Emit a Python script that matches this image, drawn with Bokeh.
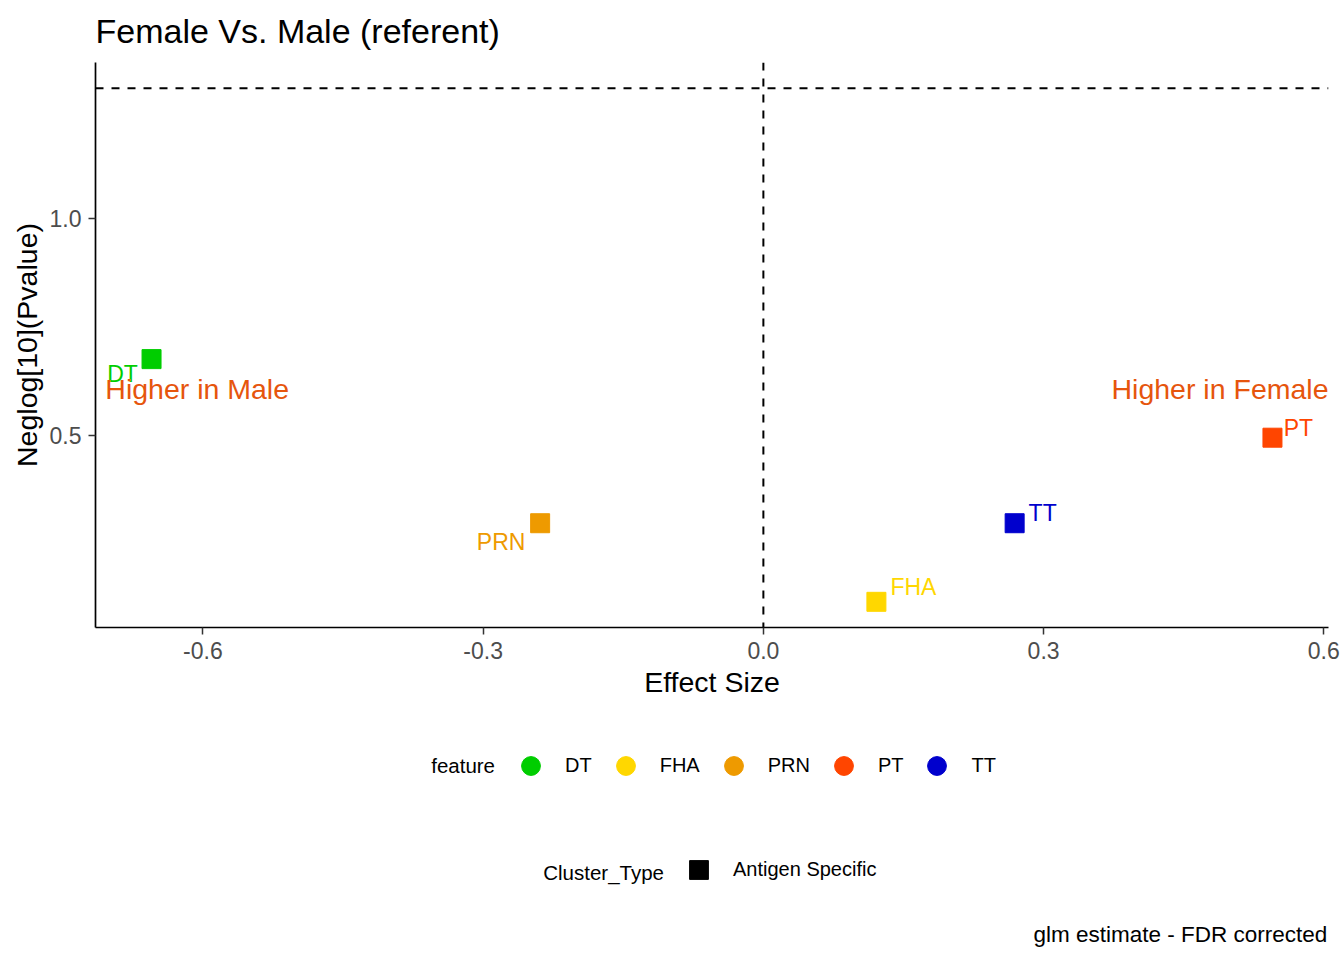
import math
from bokeh.plotting import figure
from bokeh.layouts import column
from bokeh.models import (ColumnDataSource, Span, Legend, LegendItem, Label,
                          FixedTicker, Range1d)
from bokeh.core.properties import value
from bokeh.embed import file_html
from bokeh.resources import INLINE

# ---- data -------------------------------------------------------------
features = ["DT", "FHA", "PRN", "PT", "TT"]
effect_size = [-0.655, 0.121, -0.239, 0.545, 0.269]
neglog_p = [0.677, 0.118, 0.299, 0.496, 0.299]
feature_colors = ["#00CD00", "#FFD700", "#EE9A00", "#FF4500", "#0000CD"]
cluster_types = ["Antigen Specific"]
p_cutoff = 0.05

x_ticks = [-0.6, -0.3, 0.0, 0.3, 0.6]
x_tick_labels = ["-0.6", "-0.3", "0.0", "0.3", "0.6"]
y_ticks = [0.5, 1.0]
y_tick_labels = ["0.5", "1.0"]

side_texts = ["Higher in Male", "Higher in Female"]

# ---- styling ----------------------------------------------------------
FONT = "Liberation Sans"
label_dx = [-29, 37, -39, 26, 28]     # repel-like label offsets (px)
label_dy = [15, -15, 19, -10, -10]
side_color = "#E6550D"

hline = -math.log10(p_cutoff)
xmin, xmax = min(effect_size), max(effect_size)
ymin, ymax = min(neglog_p + [hline]), max(neglog_p + [hline])
xpad = 0.05 * (xmax - xmin)
ypad = 0.05 * (ymax - ymin)

p = figure(width=1344, height=720, output_backend="svg", toolbar_location=None,
           x_range=Range1d(xmin - xpad, xmax + xpad),
           y_range=Range1d(ymin - ypad, ymax + ypad),
           min_border_left=95, min_border_right=16, min_border_top=62,
           min_border_bottom=93,
           title="Female Vs. Male (referent)")
p.outline_line_color = None
p.grid.visible = False
p.background_fill_color = "white"
p.border_fill_color = "white"

p.title.text_font = FONT
p.title.text_font_size = "34px"
p.title.text_font_style = "normal"
p.title.text_color = "black"
p.title.align = "left"
p.title.vertical_align = "top"
p.title.standoff = 21

for ax in (p.xaxis[0], p.yaxis[0]):
    ax.axis_line_color = "black"
    ax.axis_line_width = 1.7
    ax.major_tick_line_color = "#333333"
    ax.major_tick_line_width = 1.5
    ax.major_tick_out = 7
    ax.major_tick_in = 0
    ax.minor_tick_line_color = None
    ax.major_label_text_font = FONT
    ax.major_label_text_font_size = "23px"
    ax.major_label_text_color = "#4D4D4D"
    ax.axis_label_text_font = FONT
    ax.axis_label_text_font_size = "28.5px"
    ax.axis_label_text_font_style = "normal"
    ax.axis_label_text_color = "black"

p.xaxis[0].ticker = FixedTicker(ticks=x_ticks)
p.xaxis[0].major_label_overrides = dict(zip(x_ticks, x_tick_labels))
p.xaxis[0].axis_label = "Effect Size"
p.xaxis[0].major_label_standoff = 7
p.xaxis[0].axis_label_standoff = 4

p.yaxis[0].ticker = FixedTicker(ticks=y_ticks)
p.yaxis[0].major_label_overrides = dict(zip(y_ticks, y_tick_labels))
p.yaxis[0].axis_label = "Neglog[10](Pvalue)"
p.yaxis[0].major_label_standoff = 7
p.yaxis[0].axis_label_standoff = 4

# reference lines
p.add_layout(Span(location=hline, dimension="width", line_color="black",
                  line_width=2, line_dash="8 8"))
p.add_layout(Span(location=0, dimension="height", line_color="black",
                  line_width=2, line_dash="8 8"))

src = ColumnDataSource(dict(x=effect_size, y=neglog_p, feature=features,
                            color=feature_colors, dx=label_dx, dy=label_dy))
p.scatter(x="x", y="y", source=src, marker="square", size=19,
          fill_color="color", line_color="color")
p.text(x="x", y="y", text="feature", source=src, x_offset="dx", y_offset="dy",
       text_color="color", text_font=value(FONT), text_font_size="23px",
       text_align="center", text_baseline="middle")

side_src = ColumnDataSource(dict(x=[xmin - xpad + 0.0105, xmax + xpad],
                                 y=[0.608, 0.608], text=side_texts,
                                 align=["left", "right"]))
p.text(x="x", y="y", text="text", source=side_src, text_align="align",
       text_baseline="middle", text_color=side_color,
       text_font=value(FONT), text_font_size="28.5px")

# ---- legend strip (second figure, frame aligned with the plot above) ----
g = figure(width=1344, height=240, output_backend="svg", toolbar_location=None,
           x_range=Range1d(0, 1), y_range=Range1d(0, 1),
           x_axis_type=None, y_axis_type=None,
           min_border_left=95, min_border_right=16, min_border_top=0,
           min_border_bottom=0)
g.outline_line_color = None
g.grid.visible = False
g.background_fill_color = "white"
g.border_fill_color = "white"

leg_common = dict(orientation="horizontal", glyph_width=47, glyph_height=47,
                  label_standoff=11, spacing=10, padding=0, margin=0,
                  border_line_color=None, background_fill_color=None,
                  label_text_font=FONT, label_text_font_size="20px",
                  label_text_color="black")

nan = float("nan")
items1 = []
for f, c in zip(features, feature_colors):
    r = g.scatter(x=[nan], y=[nan], marker="circle", size=19,
                  fill_color=c, line_color=c)
    items1.append(LegendItem(label=f, renderers=[r]))
g.add_layout(Legend(items=items1, location=(412, 171), **leg_common), "center")

items2 = []
for ct in cluster_types:
    r = g.scatter(x=[nan], y=[nan], marker="square", size=19,
                  fill_color="black", line_color="black")
    items2.append(LegendItem(label=ct, renderers=[r]))
g.add_layout(Legend(items=items2, location=(580, 67.5), **leg_common), "center")

g.add_layout(Label(x=335.7, y=195, x_units="screen", y_units="screen",
                   text="feature", text_font=FONT, text_font_size="20.5px",
                   text_color="black", text_baseline="middle"))
g.add_layout(Label(x=447.7, y=88, x_units="screen", y_units="screen",
                   text="Cluster_Type", text_font=FONT, text_font_size="20.5px",
                   text_color="black", text_baseline="middle"))
g.add_layout(Label(x=1231.7, y=25.8, x_units="screen", y_units="screen",
                   text="glm estimate - FDR corrected", text_font=FONT,
                   text_font_size="22.5px", text_color="black",
                   text_align="right", text_baseline="middle"))

layout = column(p, g, spacing=0)
open("out.html", "w").write(file_html(layout, INLINE))
